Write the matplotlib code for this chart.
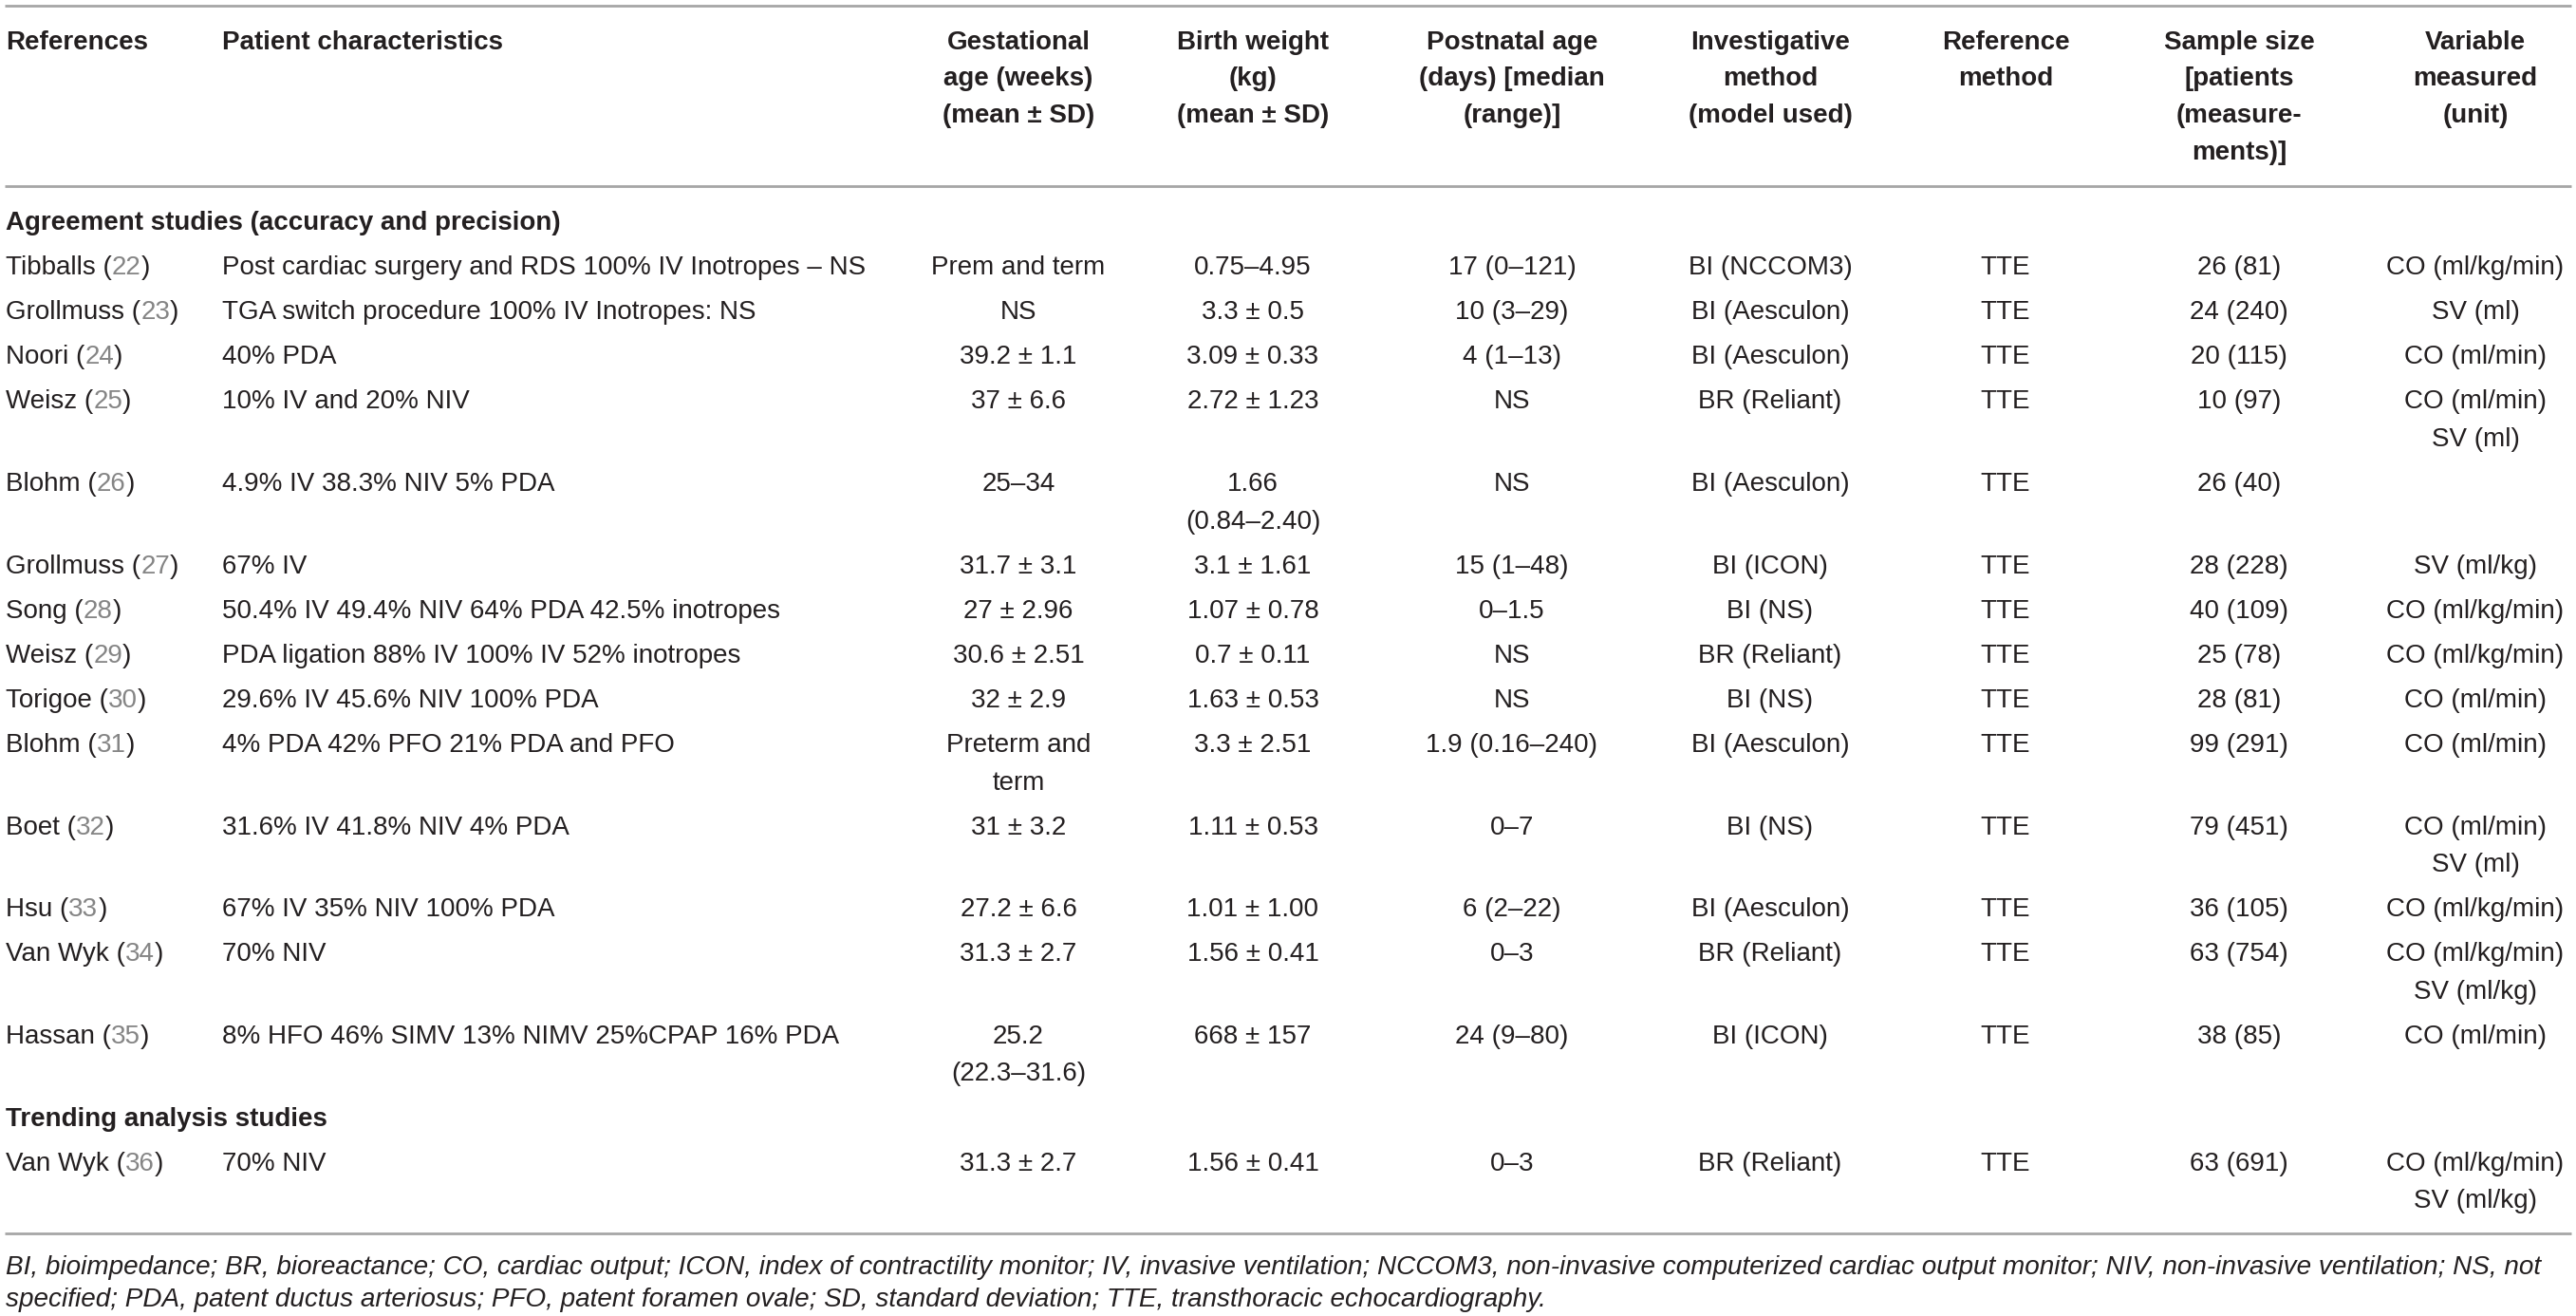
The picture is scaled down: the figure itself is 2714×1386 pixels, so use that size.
import matplotlib
matplotlib.use("Agg")
import matplotlib.pyplot as plt

plt.rcParams['font.family'] = ['Liberation Sans', 'DejaVu Sans']

# ---- table content ----
headers = ["References", "Patient characteristics",
           "Gestational\nage (weeks)\n(mean ± SD)",
           "Birth weight\n(kg)\n(mean ± SD)",
           "Postnatal age\n(days) [median\n(range)]",
           "Investigative\nmethod\n(model used)",
           "Reference\nmethod",
           "Sample size\n[patients\n(measure-\nments)]",
           "Variable\nmeasured\n(unit)"]

sections = ["Agreement studies (accuracy and precision)", "Trending analysis studies"]
row_section = [0, 0, 0, 0, 0, 0, 0, 0, 0, 0, 0, 0, 0, 0, 1]

authors = ["Tibballs", "Grollmuss", "Noori", "Weisz", "Blohm", "Grollmuss", "Song",
           "Weisz", "Torigoe", "Blohm", "Boet", "Hsu", "Van Wyk", "Hassan", "Van Wyk"]
ref_numbers = ["22", "23", "24", "25", "26", "27", "28", "29", "30", "31", "32", "33",
               "34", "35", "36"]
patient_chars = ["Post cardiac surgery and RDS 100% IV Inotropes – NS",
                 "TGA switch procedure 100% IV Inotropes: NS",
                 "40% PDA",
                 "10% IV and 20% NIV",
                 "4.9% IV 38.3% NIV 5% PDA",
                 "67% IV",
                 "50.4% IV 49.4% NIV 64% PDA 42.5% inotropes",
                 "PDA ligation 88% IV 100% IV 52% inotropes",
                 "29.6% IV 45.6% NIV 100% PDA",
                 "4% PDA 42% PFO 21% PDA and PFO",
                 "31.6% IV 41.8% NIV 4% PDA",
                 "67% IV 35% NIV 100% PDA",
                 "70% NIV",
                 "8% HFO 46% SIMV 13% NIMV 25%CPAP 16% PDA",
                 "70% NIV"]
gest_age = ["Prem and term", "NS", "39.2 ± 1.1", "37 ± 6.6", "25–34", "31.7 ± 3.1",
            "27 ± 2.96", "30.6 ± 2.51", "32 ± 2.9", "Preterm and\nterm", "31 ± 3.2",
            "27.2 ± 6.6", "31.3 ± 2.7", "25.2\n(22.3–31.6)", "31.3 ± 2.7"]
birth_weight = ["0.75–4.95", "3.3 ± 0.5", "3.09 ± 0.33", "2.72 ± 1.23", "1.66\n(0.84–2.40)",
                "3.1 ± 1.61", "1.07 ± 0.78", "0.7 ± 0.11", "1.63 ± 0.53", "3.3 ± 2.51",
                "1.11 ± 0.53", "1.01 ± 1.00", "1.56 ± 0.41", "668 ± 157", "1.56 ± 0.41"]
postnatal_age = ["17 (0–121)", "10 (3–29)", "4 (1–13)", "NS", "NS", "15 (1–48)", "0–1.5",
                 "NS", "NS", "1.9 (0.16–240)", "0–7", "6 (2–22)", "0–3", "24 (9–80)", "0–3"]
invest_method = ["BI (NCCOM3)", "BI (Aesculon)", "BI (Aesculon)", "BR (Reliant)",
                 "BI (Aesculon)", "BI (ICON)", "BI (NS)", "BR (Reliant)", "BI (NS)",
                 "BI (Aesculon)", "BI (NS)", "BI (Aesculon)", "BR (Reliant)", "BI (ICON)",
                 "BR (Reliant)"]
ref_method = ["TTE", "TTE", "TTE", "TTE", "TTE", "TTE", "TTE", "TTE", "TTE", "TTE",
              "TTE", "TTE", "TTE", "TTE", "TTE"]
sample_size = ["26 (81)", "24 (240)", "20 (115)", "10 (97)", "26 (40)", "28 (228)",
               "40 (109)", "25 (78)", "28 (81)", "99 (291)", "79 (451)", "36 (105)",
               "63 (754)", "38 (85)", "63 (691)"]
variable = ["CO (ml/kg/min)", "SV (ml)", "CO (ml/min)", "CO (ml/min)\nSV (ml)", "",
            "SV (ml/kg)", "CO (ml/kg/min)", "CO (ml/kg/min)", "CO (ml/min)", "CO (ml/min)",
            "CO (ml/min)\nSV (ml)", "CO (ml/kg/min)", "CO (ml/kg/min)\nSV (ml/kg)",
            "CO (ml/min)", "CO (ml/kg/min)\nSV (ml/kg)"]

footnote = ["BI, bioimpedance; BR, bioreactance; CO, cardiac output; ICON, index of contractility "
            "monitor; IV, invasive ventilation; NCCOM3, non-invasive computerized cardiac output "
            "monitor; NIV, non-invasive ventilation; NS, not",
            "specified; PDA, patent ductus arteriosus; PFO, patent foramen ovale; SD, standard "
            "deviation; TTE, transthoracic echocardiography."]

# ---- layout (pixel coordinates) ----
W, H = 2714, 1386
col_x = [6, 234, 1073, 1320, 1593, 1865, 2113, 2359, 2608]
col_ha = ['left', 'left', 'center', 'center', 'center', 'center', 'center', 'center', 'center']
FS = 20
TXT = '#231f20'
REFC = '#858585'
RULE = '#a6a6a6'
line_gap = 39.5
row_gap = 47.1
base_off = 9  # centre -> baseline

fig = plt.figure(figsize=(W / 100, H / 100), dpi=100)
ax = fig.add_axes([0, 0, 1, 1])
ax.set_xlim(0, W)
ax.set_ylim(H, 0)
ax.axis('off')


def cell(x, y, s, ha, **kw):
    for i, line in enumerate(s.split('\n')):
        ax.text(x, y + i * line_gap + base_off, line, ha=ha, va='baseline',
                fontsize=FS, color=TXT, **kw)


# rules
for y in [6, 196, 1299]:
    ax.plot([5, 2709], [y, y], color=RULE, lw=2, solid_capstyle='butt')

# header
for x, ha, h in zip(col_x, col_ha, headers):
    for i, line in enumerate(h.split('\n')):
        ax.text(x, 43 + i * 38.5 + base_off, line, ha=ha, va='baseline',
                fontsize=FS, fontweight='bold', color=TXT)

# body
y = 233
current = -1
for r in range(len(authors)):
    if row_section[r] != current:
        current = row_section[r]
        cell(col_x[0], y, sections[current], 'left', fontweight='bold')
        y += row_gap
    # reference with grey citation number
    t1 = ax.text(col_x[0], y + base_off, authors[r] + " (", ha='left', va='baseline',
                 fontsize=FS, color=TXT)
    t2 = ax.annotate(ref_numbers[r], xy=(1, 0), xycoords=t1, ha='left', va='bottom',
                     fontsize=FS, color=REFC)
    ax.annotate(")", xy=(1, 0), xycoords=t2, ha='left', va='bottom',
                fontsize=FS, color=TXT)
    values = [patient_chars[r], gest_age[r], birth_weight[r], postnatal_age[r],
              invest_method[r], ref_method[r], sample_size[r], variable[r]]
    for x, ha, v in zip(col_x[1:], col_ha[1:], values):
        cell(x, y, v, ha)
    nlines = max(v.count('\n') + 1 for v in values)
    y += row_gap + line_gap * (nlines - 1)

# footnote
for i, line in enumerate(footnote):
    ax.text(6, 1333 + i * 34 + base_off, line, ha='left', va='baseline',
            fontsize=20.1, style='italic', color=TXT)

fig.savefig('out.png', dpi=100, facecolor='white')
